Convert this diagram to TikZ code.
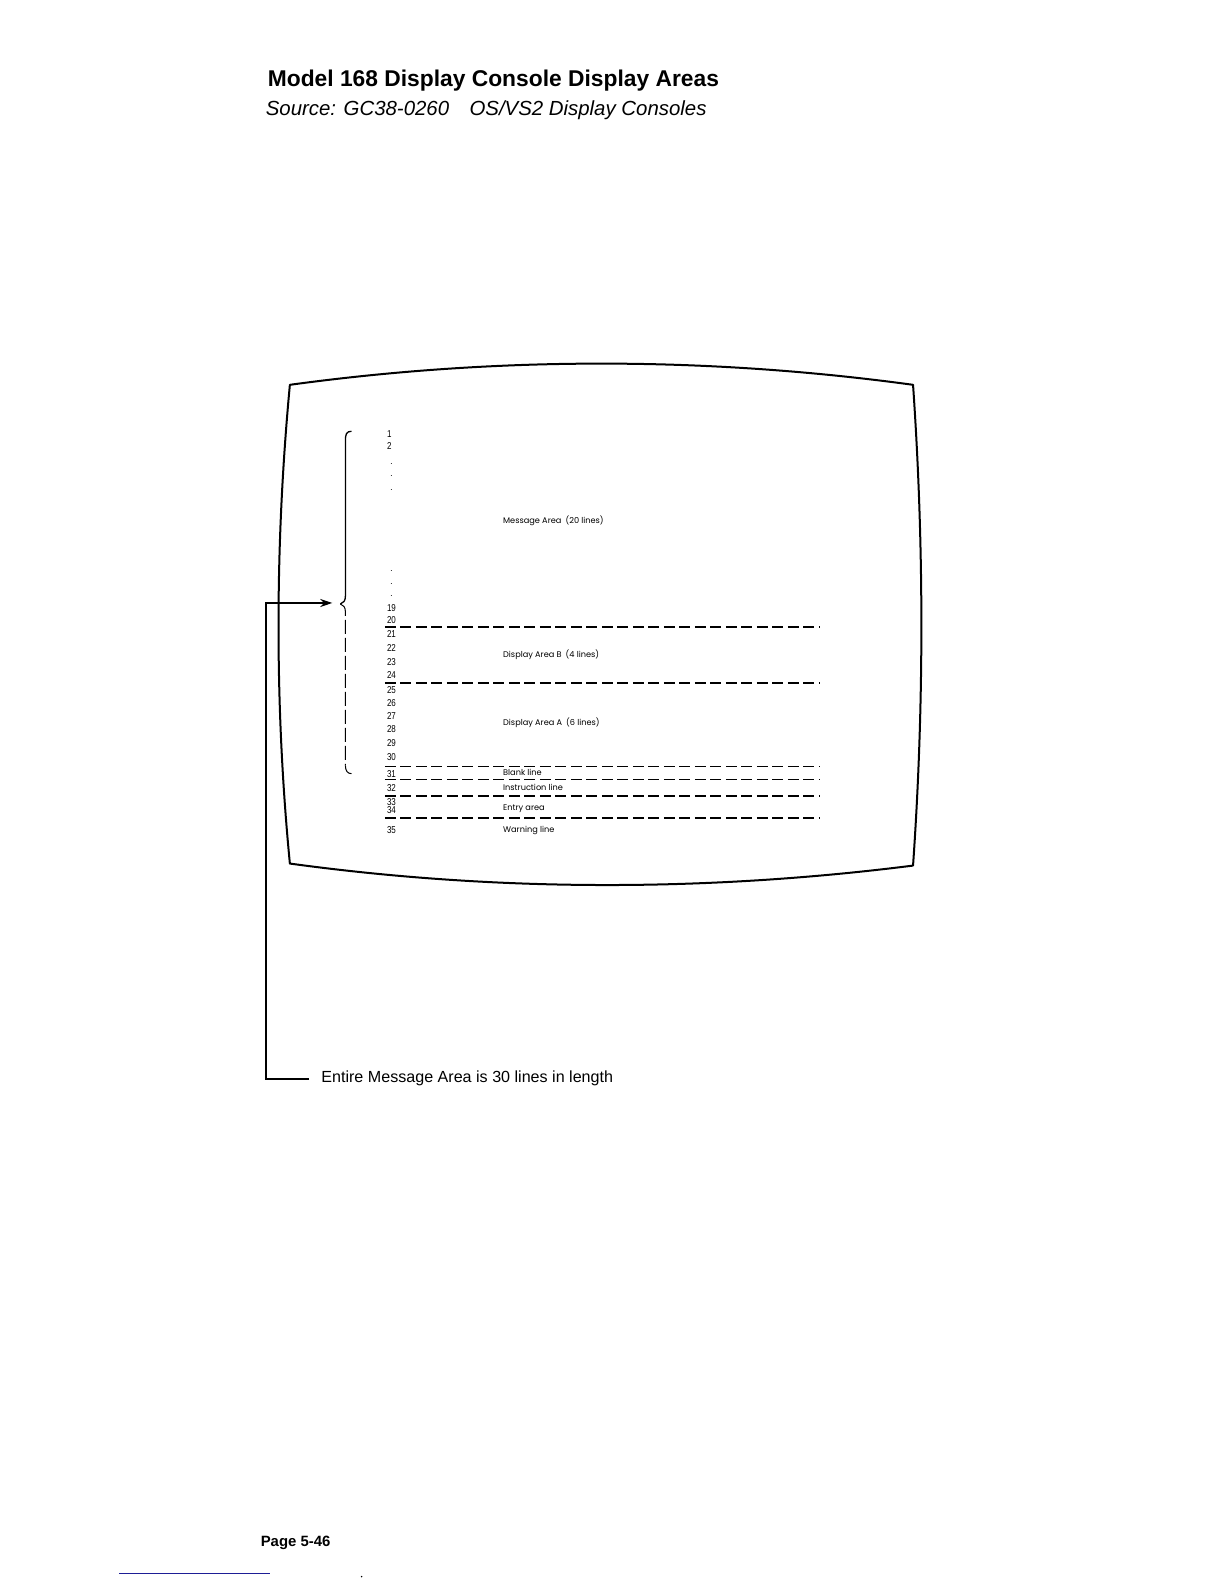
\documentclass[tikz,border=0pt]{standalone}
\usepackage{fontspec}
\setmainfont{Liberation Sans}
\newfontfamily\geofont{Poppins}
\newfontfamily\numfont[FakeStretch=0.8]{Liberation Sans}
\usetikzlibrary{arrows.meta}
\begin{document}
\begin{tikzpicture}[x=1.01pt,y=-1.01pt,
  screen/.style={line width=2pt, line join=round},
  sepline/.style={line width=1.5pt, dash pattern=on 11pt off 4.5pt},
  num/.style={anchor=west, inner sep=0pt, font=\numfont\fontsize{10}{10}\selectfont},
  lbl/.style={anchor=west, inner sep=0pt, font=\geofont\fontsize{8.2}{9}\selectfont},
  conn/.style={line width=1.8pt}]
\useasboundingbox (0,0) rectangle (1211.88,1568.32);
% heading
\node[anchor=base west, inner sep=0pt, font=\fontsize{22.8}{26}\selectfont\bfseries] (title) at (265,86) {Model 168 Display Console Display Areas};
\node[anchor=base west, inner sep=0pt, font=\fontsize{20.4}{24}\selectfont\itshape] (sub) at (263,114) {Source: GC38-0260\hspace{1em}OS/VS2 Display Consoles};
% screen outline
\draw[screen] (287,381) .. controls (492,353) and (699,353) .. (904,381)
  .. controls (915,540) and (915,699) .. (904,857)
  .. controls (699,883) and (492,883) .. (287,855)
  .. controls (272,700) and (272,541) .. cycle;
% line numbers
\foreach \n/\y in {1/430,2/442,19/602,20/614,21/628,22/642,23/655,24/668,25/683,26/696,27/709,28/722,29/736,30/750,31/766,32/780,33/794,34/802,35/822}
  \node[num] (n\n) at (383,\y) {\n};
\foreach \i/\y in {a/460,b/472,c/485,d/566,e/578,f/590}
  \node[num] (d\i) at (386,\y) {$\cdot$};
% separators
\foreach \y in {621,676,759,772,788,810}
  \draw[sepline] (381,\y) -- (811,\y);
% area labels
\node[lbl] (msg) at (498,516) {Message Area\enspace(20 lines)};
\node[lbl] (areab) at (498,648) {Display Area B\enspace(4 lines)};
\node[lbl] (areaa) at (498,716) {Display Area A\enspace(6 lines)};
\node[lbl] (blank) at (498,765) {Blank line};
\node[lbl] (instr) at (498,780) {Instruction line};
\node[lbl] (entry) at (498,801) {Entry area};
\node[lbl] (warn) at (498,822) {Warning line};
% bracket
\coordinate (btip) at (337,598);
\draw[line width=1.3pt] (348,427) .. controls (343,427) and (342,430) .. (342,436) -- (342,590) .. controls (342,595) and (340,597) .. (btip);
\draw[line width=1pt, dash pattern=on 14pt off 4pt] (btip) .. controls (340,599) and (342,601) .. (342,606) -- (342,758);
\draw[line width=1pt] (342,758) .. controls (342,763) and (344,766) .. (348,766);
% note and connector
\node[anchor=west, inner sep=0pt, font=\fontsize{16.1}{19}\selectfont] (note) at (318,1068) {Entire Message Area is 30 lines in length};
\coordinate (lbot) at (263,1068);
\coordinate (ltop) at (263,597);
\coordinate (arr) at (329,597);
\draw[conn, -{Stealth[length=12pt,width=8pt]}] ([xshift=-12pt]note.west) -- (lbot) -- (ltop) -- (arr);
% page footer
\node[anchor=base west, inner sep=0pt, font=\fontsize{14.9}{17}\selectfont\bfseries] (page) at (258,1531) {Page 5-46};
\draw[line width=1pt, color={rgb,255:red,30;green,30;blue,150}] (118,1558) -- (267,1558);
\fill (358,1561) circle (0.8pt);
\end{tikzpicture}
\end{document}
